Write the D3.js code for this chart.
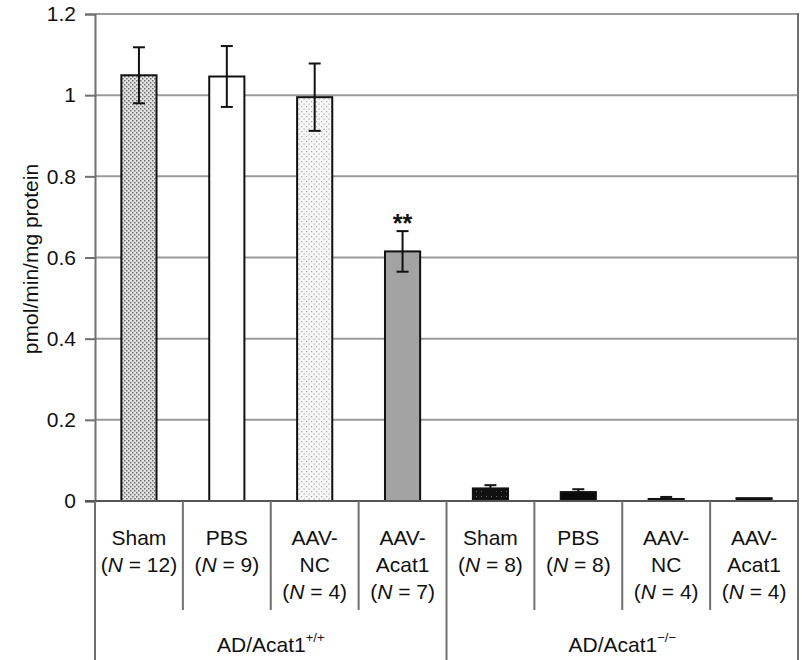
<!DOCTYPE html>
<html>
<head>
<meta charset="utf-8">
<script src="https://cdn.jsdelivr.net/npm/d3@7"></script>
<style>
  body { margin: 0; background: #fff; }
  text { font-family: "Liberation Sans", Arial, Helvetica, sans-serif; fill: #111; }
</style>
</head>
<body>
<svg id="chart" width="802" height="660"></svg>
<script>
"use strict";

// chart values
var groups = ["AD/Acat1", "AD/Acat1"];
var groupSup = ["+/+", "\u2212/\u2212"];
var treatments = [["Sham"], ["PBS"], ["AAV-", "NC"], ["AAV-", "Acat1"],
                  ["Sham"], ["PBS"], ["AAV-", "NC"], ["AAV-", "Acat1"]];
var counts = [12, 9, 4, 7, 8, 8, 4, 4];
var means = [1.049, 1.046, 0.995, 0.615, 0.031, 0.022, 0.005, 0.007];
var sems = [0.069, 0.075, 0.083, 0.050, 0.008, 0.007, 0.005, 0.0];
var fills = ["dense", "white", "sparse", "grey", "darkdots", "black", "black", "black"];
var yTicks = [0, 0.2, 0.4, 0.6, 0.8, 1, 1.2];

var margin = { left: 95, right: 798, top: 14, bottom: 501 };
var FS = "21px";

var svg = d3.select("#chart");

// fill patterns
var defs = svg.append("defs");
var pDense = defs.append("pattern").attr("id", "dense")
  .attr("width", 4).attr("height", 4).attr("patternUnits", "userSpaceOnUse");
pDense.append("rect").attr("width", 4).attr("height", 4).attr("fill", "#e3e3e3");
pDense.append("rect").attr("x", 0).attr("y", 0).attr("width", 1.5).attr("height", 1.5).attr("fill", "#6f6f6f");
pDense.append("rect").attr("x", 2).attr("y", 2).attr("width", 1.5).attr("height", 1.5).attr("fill", "#6f6f6f");

var pSparse = defs.append("pattern").attr("id", "sparse")
  .attr("width", 5).attr("height", 5).attr("patternUnits", "userSpaceOnUse");
pSparse.append("rect").attr("width", 5).attr("height", 5).attr("fill", "#f7f7f7");
pSparse.append("rect").attr("x", 1).attr("y", 1).attr("width", 1.2).attr("height", 1.2).attr("fill", "#aaa");
pSparse.append("rect").attr("x", 3.5).attr("y", 3.5).attr("width", 1.2).attr("height", 1.2).attr("fill", "#aaa");

var pDark = defs.append("pattern").attr("id", "darkdots")
  .attr("width", 5).attr("height", 5).attr("patternUnits", "userSpaceOnUse");
pDark.append("rect").attr("width", 5).attr("height", 5).attr("fill", "#111");
pDark.append("rect").attr("x", 1).attr("y", 1).attr("width", 1).attr("height", 1).attr("fill", "#666");

function fillFor(f) {
  if (f === "white") return "#fff";
  if (f === "grey") return "#a3a3a3";
  if (f === "black") return "#0a0a0a";
  return "url(#" + f + ")";
}

var x = d3.scaleBand()
  .domain(d3.range(means.length))
  .range([margin.left, margin.right])
  .paddingInner(0).paddingOuter(0);

var y = d3.scaleLinear()
  .domain([0, 1.2])
  .range([margin.bottom, margin.top]);

// gridlines
svg.append("g")
  .selectAll("line").data(yTicks.filter(function(d) { return d > 0; }))
  .enter().append("line")
  .attr("x1", margin.left).attr("x2", margin.right)
  .attr("y1", function(d) { return y(d); }).attr("y2", function(d) { return y(d); })
  .attr("stroke", "#9a9a9a").attr("stroke-width", 2);

// right frame line
svg.append("line")
  .attr("x1", margin.right).attr("x2", margin.right)
  .attr("y1", margin.top - 1).attr("y2", margin.bottom)
  .attr("stroke", "#707070").attr("stroke-width", 2);

// y axis
var yAxis = svg.append("g")
  .attr("transform", "translate(" + margin.left + ",0)")
  .call(d3.axisLeft(y).tickValues(yTicks).tickSize(10).tickPadding(9)
    .tickFormat(function(d) { return d3.format("")(+d.toFixed(1)); }));
yAxis.select(".domain").attr("stroke", "#707070").attr("stroke-width", 2);
yAxis.selectAll(".tick line").attr("stroke", "#707070").attr("stroke-width", 2);
yAxis.selectAll(".tick text").style("font-size", FS).attr("fill", "#111");

svg.append("text")
  .attr("transform", "translate(38,259) rotate(-90)")
  .attr("text-anchor", "middle")
  .style("font-size", FS)
  .text("pmol/min/mg protein");

// bars
var barW = x.bandwidth() * 0.4;
svg.append("g").selectAll("rect").data(means)
  .enter().append("rect")
  .attr("x", function(d, i) { return x(i) + x.bandwidth() / 2 - barW / 2; })
  .attr("y", function(d) { return y(d); })
  .attr("width", barW)
  .attr("height", function(d) { return y(0) - y(d); })
  .attr("fill", function(d, i) { return fillFor(fills[i]); })
  .attr("stroke", "#111").attr("stroke-width", 2);

// error bars
var capW = 12;
means.forEach(function(d, i) {
  var s = sems[i];
  if (s <= 0) return;
  var cx = x(i) + x.bandwidth() / 2;
  var lo = Math.max(0, d - s), hi = d + s;
  var g = svg.append("g").attr("transform", "translate(" + cx + ",0)");
  g.append("line").attr("x1", 0).attr("x2", 0)
    .attr("y1", y(lo)).attr("y2", y(hi))
    .attr("stroke", "#111").attr("stroke-width", 2);
  g.append("line").attr("x1", -capW / 2).attr("x2", capW / 2)
    .attr("y1", y(hi)).attr("y2", y(hi))
    .attr("stroke", "#111").attr("stroke-width", 2);
  if (d - s > 0.02) {
    g.append("line").attr("x1", -capW / 2).attr("x2", capW / 2)
      .attr("y1", y(lo)).attr("y2", y(lo))
      .attr("stroke", "#111").attr("stroke-width", 2);
  }
});

// significance mark
svg.append("text")
  .attr("x", x(3) + x.bandwidth() / 2)
  .attr("y", y(means[3] + sems[3]) + 1)
  .attr("text-anchor", "middle")
  .style("font-size", "25px")
  .style("font-weight", "bold")
  .text("**");

// x axis line
svg.append("line")
  .attr("x1", margin.left - 10).attr("x2", margin.right)
  .attr("y1", y(0)).attr("y2", y(0))
  .attr("stroke", "#555").attr("stroke-width", 2);

// category table under the axis
var dividers = d3.range(means.length + 1);
svg.append("g").selectAll("line").data(dividers)
  .enter().append("line")
  .attr("x1", function(d) { return d === means.length ? margin.right : x(d); })
  .attr("x2", function(d) { return d === means.length ? margin.right : x(d); })
  .attr("y1", y(0))
  .attr("y2", function(d) { return d % 4 === 0 ? 660 : 610; })
  .attr("stroke", "#707070").attr("stroke-width", 2);

var lineH = 27;
var labels = svg.append("g").selectAll("text").data(treatments)
  .enter().append("text")
  .attr("text-anchor", "middle")
  .style("font-size", FS);
labels.each(function(lines, i) {
  var t = d3.select(this);
  var cx = x(i) + x.bandwidth() / 2;
  lines.forEach(function(l, k) {
    t.append("tspan").attr("x", cx).attr("y", 545 + k * lineH).text(l);
  });
  var ny = 545 + lines.length * lineH;
  var last = t.append("tspan").attr("x", cx).attr("y", ny);
  last.append("tspan").text("(");
  last.append("tspan").style("font-style", "italic").text("N");
  last.append("tspan").text(" = " + counts[i] + ")");
});

// group labels
groups.forEach(function(gname, gi) {
  var x0 = x(gi * 4), x1 = gi === 1 ? margin.right : x(gi * 4 + 4);
  var t = svg.append("text")
    .attr("x", (x0 + x1) / 2)
    .attr("y", 652)
    .attr("text-anchor", "middle")
    .style("font-size", FS);
  t.append("tspan").text(gname);
  t.append("tspan").attr("dy", -10).style("font-size", "13px").text(groupSup[gi]);
});
</script>
</body>
</html>
